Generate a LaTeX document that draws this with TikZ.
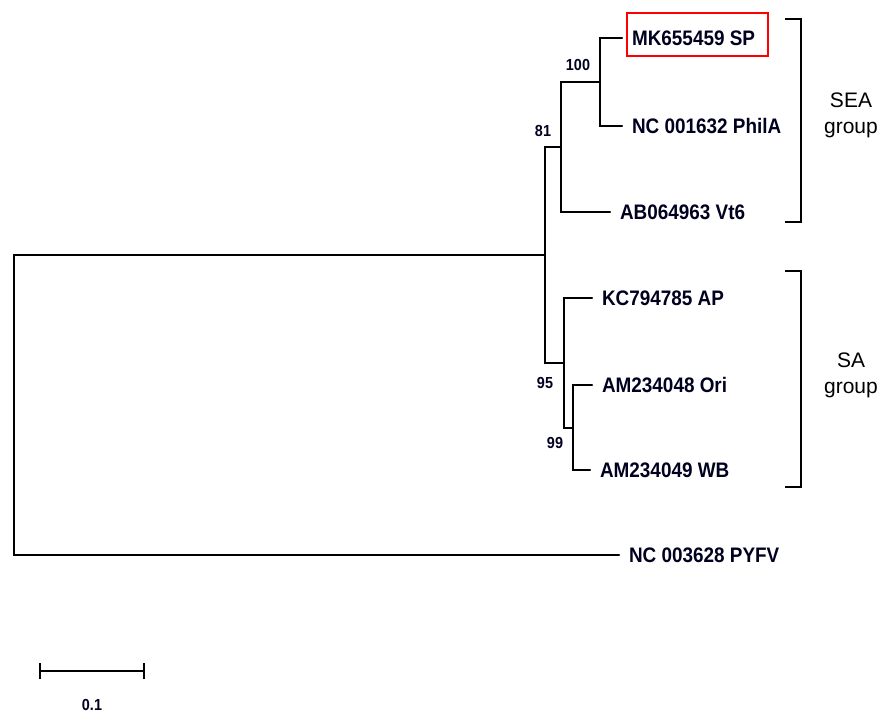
\documentclass[tikz,border=0pt]{standalone}
\usepackage{fontspec}
\setmainfont{Liberation Sans}
\begin{document}
\begin{tikzpicture}[x=1pt,y=-1pt,
  branch/.style={line width=2.2pt, line cap=round},
  leaf/.style={anchor=west, xscale=0.9, inner xsep=11pt, inner ysep=0pt, text height=15pt, text depth=0pt,
    font=\fontsize{21}{25}\selectfont\bfseries, text=black!88!blue},
  boot/.style={inner sep=0pt, xscale=0.9, font=\fontsize{16}{19}\selectfont\bfseries, text=black!88!blue},
  groupl/.style={align=center, inner sep=0pt, font=\fontsize{21}{26}\selectfont},
  bracket/.style={line width=2.5pt},
  redbox/.style={draw=red, line width=2.5pt, inner sep=0pt}]
\useasboundingbox (0,0) rectangle (884,715);
% internal nodes
\coordinate (root) at (14,405);
\coordinate (nA) at (545,255);
\coordinate (n81) at (561,147);
\coordinate (n100) at (600,82);
\coordinate (n95) at (564,363);
\coordinate (n99) at (573,428);
% leaves
\node[leaf] (sp) at (622,38) {MK655459 SP};
\node[leaf] (phila) at (622,126) {NC 001632 PhilA};
\node[leaf] (vt6) at (610,212) {AB064963 Vt6};
\node[leaf] (ap) at (592,298) {KC794785 AP};
\node[leaf] (ori) at (592,385) {AM234048 Ori};
\node[leaf] (wb) at (590,470) {AM234049 WB};
\node[leaf] (pyfv) at (619,555) {NC 003628 PYFV};
% red highlight box
\node[redbox, minimum width=141pt, minimum height=43pt] (box) at (697.5,34.5) {};
% branches
\draw[branch] (root) |- (nA);
\draw[branch] (root) |- (pyfv.west);
\draw[branch] (nA) |- (n81);
\draw[branch] (nA) |- (n95);
\draw[branch] (n81) |- (n100);
\draw[branch] (n81) |- (vt6.west);
\draw[branch] (n100) |- (sp.west);
\draw[branch] (n100) |- (phila.west);
\draw[branch] (n95) |- (ap.west);
\draw[branch] (n95) |- (n99);
\draw[branch] (n99) |- (ori.west);
\draw[branch] (n99) |- (wb.west);
% bootstrap values
\node[boot] (b100) at (578,65) {100};
\node[boot] (b81) at (543,131) {81};
\node[boot] (b95) at (545,383) {95};
\node[boot] (b99) at (555,443) {99};
% group brackets
\coordinate (sea1) at (785,19);
\coordinate (sea2) at (785,222);
\coordinate (sa1) at (785,271);
\coordinate (sa2) at (785,487);
\draw[bracket] (sea1) -- ++(16,0) |- (sea2);
\draw[bracket] (sa1) -- ++(16,0) |- (sa2);
\node[groupl] (sealab) at (851,115) {SEA\\group};
\node[groupl] (salab) at (851,375) {SA\\group};
% scale bar
\coordinate (s1) at (40,671);
\coordinate (s2) at (144,671);
\draw[line width=2.2pt] (s1) -- (s2);
\draw[line width=2.2pt] ([yshift=-8pt]s1) -- ([yshift=8pt]s1);
\draw[line width=2.2pt] ([yshift=-8pt]s2) -- ([yshift=8pt]s2);
\node[boot] (scale) at (92,705) {0.1};
\end{tikzpicture}
\end{document}
